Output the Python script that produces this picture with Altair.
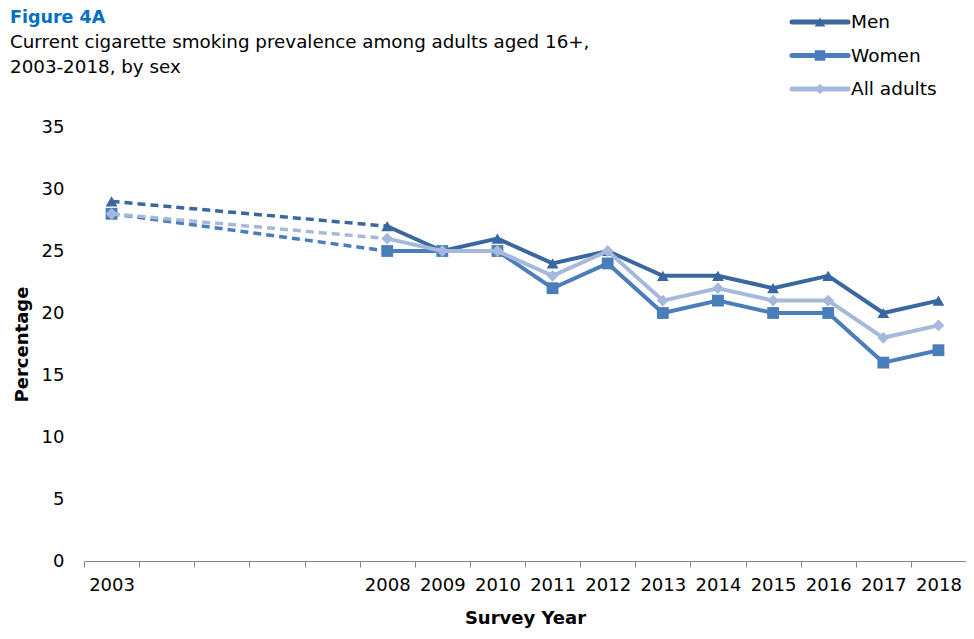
import altair as alt
import pandas as pd

all_years = [str(y) for y in range(2003, 2019)]
survey_years = ["2003", "2008", "2009", "2010", "2011", "2012", "2013",
                "2014", "2015", "2016", "2017", "2018"]
men = [29, 27, 25, 26, 24, 25, 23, 23, 22, 23, 20, 21]
women = [28, 25, 25, 25, 22, 24, 20, 21, 20, 20, 16, 17]
all_adults = [28, 26, 25, 25, 23, 25, 21, 22, 21, 21, 18, 19]

series_names = ["Men", "Women", "All adults"]
series_values = [men, women, all_adults]
series_colors = ["#3A679F", "#4A7EBB", "#A7B9DA"]
series_shapes = ["triangle-up", "square", "diamond"]

FONT = "DejaVu Sans"
FS = 18

x_enc = alt.X(
    "year:O",
    bandPosition=0.5,
    scale=alt.Scale(type="band", domain=all_years, paddingInner=0, paddingOuter=0),
    axis=alt.Axis(
        title="Survey Year",
        tickBand="extent",
        labelExpr="indexof(['2004','2005','2006','2007'], datum.value) >= 0 ? '' : datum.value",
        labelAngle=0,
        labelFont=FONT,
        labelFontSize=FS,
        labelColor="#000000",
        labelPadding=9,
        tickSize=6,
        tickColor="#868686",
        domainColor="#868686",
        titleFont=FONT,
        titleFontSize=FS,
        titleFontWeight="bold",
        titleColor="#000000",
        titleBaseline="alphabetic",
        titleY=62,
    ),
)
y_enc = alt.Y(
    "value:Q",
    scale=alt.Scale(domain=[0, 35]),
    axis=alt.Axis(
        title="Percentage",
        values=[0, 5, 10, 15, 20, 25, 30, 35],
        domain=False,
        ticks=False,
        grid=False,
        labelFont=FONT,
        labelFontSize=FS,
        labelColor="#000000",
        labelPadding=20,
        titleFont=FONT,
        titleFontSize=FS,
        titleFontWeight="bold",
        titleColor="#000000",
        titleX=-53,
        titleY=217,
    ),
)

layers = []
for name, vals, col, shp in zip(series_names, series_values, series_colors, series_shapes):
    df = pd.DataFrame({"year": survey_years, "value": vals, "series": name})
    dashed = df[df["year"].isin(["2003", "2008"])]
    solid = df[df["year"] != "2003"]
    layers.append(
        alt.Chart(dashed).mark_line(color=col, strokeWidth=3.5, strokeDash=[8, 5])
        .encode(x=x_enc, y=y_enc)
    )
    layers.append(
        alt.Chart(solid).mark_line(color=col, strokeWidth=4)
        .encode(x=x_enc, y=y_enc)
    )
    layers.append(
        alt.Chart(df).mark_point(shape=shp, filled=True, size=140, color=col, opacity=1)
        .encode(x=x_enc, y=y_enc)
    )

# legend (top right)
one = pd.DataFrame({"a": [0]})
for i, (name, col, shp) in enumerate(zip(series_names, series_colors, series_shapes)):
    yy = -105 + 33.5 * i
    layers.append(
        alt.Chart(one).mark_rule(color=col, strokeWidth=5, strokeCap="round")
        .encode(x=alt.value(708), x2=alt.value(764), y=alt.value(yy))
    )
    layers.append(
        alt.Chart(one).mark_point(shape=shp, filled=True, size=110, color=col, opacity=1)
        .encode(x=alt.value(736), y=alt.value(yy))
    )
    layers.append(
        alt.Chart(one).mark_text(align="left", baseline="middle", font=FONT,
                                 fontSize=18.5, color="#000000")
        .encode(x=alt.value(767), y=alt.value(yy), text=alt.value(name))
    )

# titles
title_lines = ["Figure 4A",
               "Current cigarette smoking prevalence among adults aged 16+,",
               "2003-2018, by sex"]
title_y = [-104, -79, -54]
title_sizes = [17.5, 18.3, 18.3]
for i, (t, ty, ts) in enumerate(zip(title_lines, title_y, title_sizes)):
    layers.append(
        alt.Chart(one).mark_text(
            align="left", baseline="alphabetic", font=FONT, fontSize=ts,
            fontWeight="bold" if i == 0 else "normal",
            color="#0070C0" if i == 0 else "#000000",
        ).encode(x=alt.value(-74), y=alt.value(ty), text=alt.value(t))
    )

chart = alt.layer(*layers).properties(
    width=882,
    height=434,
    autosize=alt.AutoSizeParams(type="none"),
    padding={"left": 76, "top": 119, "right": 0, "bottom": 67},
).configure_view(stroke=None)

chart.save("out.html", embed_options={"renderer": "svg", "actions": False})
